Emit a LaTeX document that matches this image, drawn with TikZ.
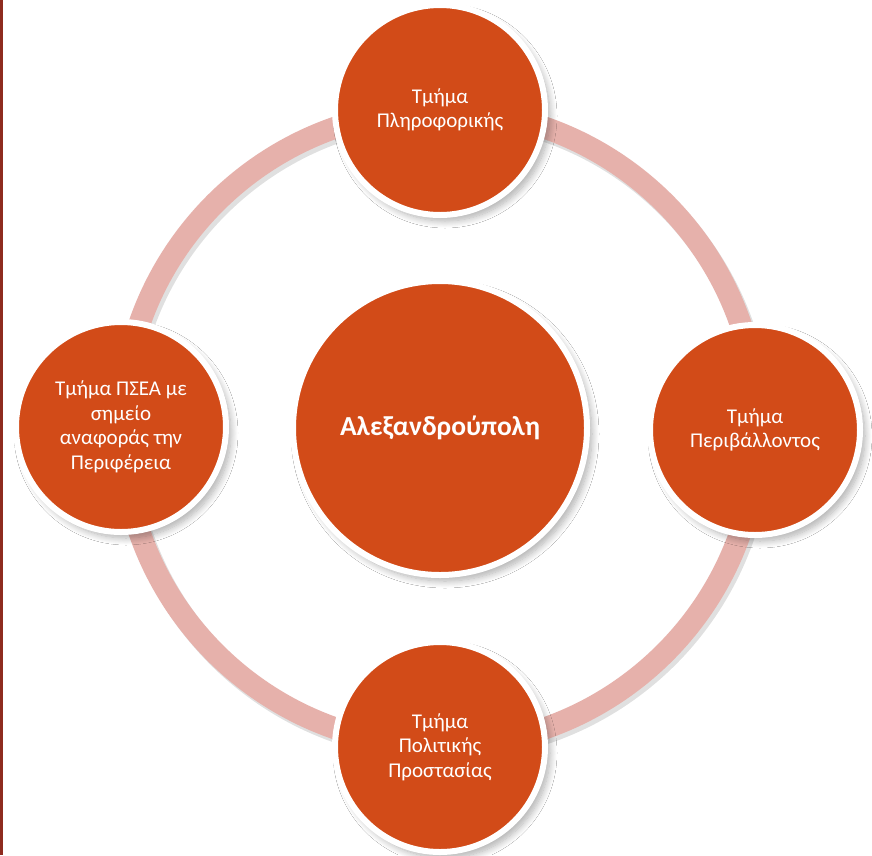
\documentclass[tikz,border=0pt]{standalone}
\usepackage{fontspec}
\setmainfont{Carlito}
\usetikzlibrary{shadows.blur}
\definecolor{unitorange}{HTML}{D24B18}
\definecolor{ringpink}{HTML}{E6B1AB}
\definecolor{edgered}{HTML}{8E2B1F}
\def\ringpath{(440,428) circle (318)}
\def\framebox{(0,0) rectangle (872,855)}
\tikzset{
  unit/.style={circle, fill=unitorange, draw=white, line width=6pt,
    minimum size=210pt, inner sep=0pt, align=center, text=white,
    font=\fontsize{21}{24.5}\selectfont,
    blur shadow={shadow xshift=5pt, shadow yshift=-6pt,
      shadow blur radius=7pt, shadow blur steps=10, shadow opacity=32}},
  hub/.style={unit, minimum size=294pt,
    font=\fontsize{27.5}{32}\selectfont\bfseries}
}

\begin{document}
\begin{tikzpicture}[x=1pt, y=-1pt]
\useasboundingbox \framebox;
\fill[white] \framebox;
% left edge:
\fill[edgered] (0,0) rectangle (3,855);
% ring:
\draw[black, opacity=0.12, line width=22pt] (443,432) circle (318);
\draw[ringpink, line width=22pt] \ringpath;
% units:
\node[unit] (informatics) at (440,110) {Τμήμα\\Πληροφορικής};
\node[unit] (environment) at (755,430) {Τμήμα\\Περιβάλλοντος};
\node[unit] (civil) at (440,747) {Τμήμα\\Πολιτικής\\Προστασίας};
\node[unit] (psea) at (121,427) {Τμήμα ΠΣΕΑ με\\σημείο\\αναφοράς την\\Περιφέρεια};
% centre:
\node[hub] (city) at (440,428) {Αλεξανδρούπολη};
\end{tikzpicture}
\end{document}
